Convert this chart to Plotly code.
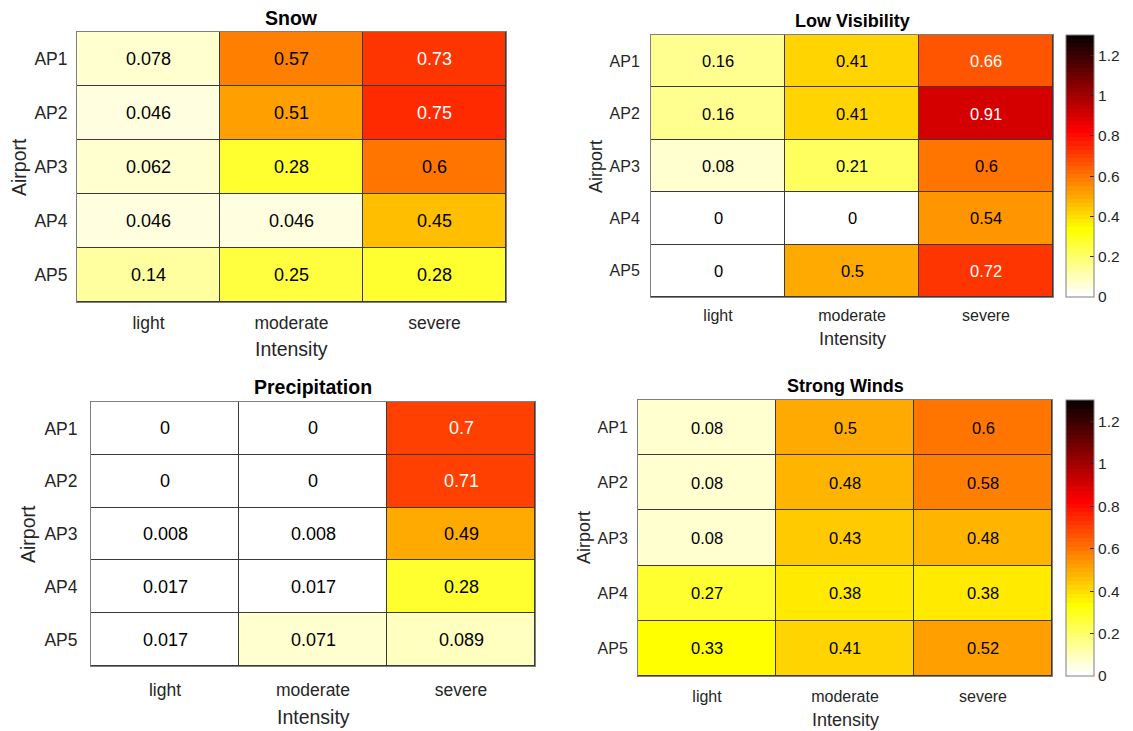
import plotly.graph_objects as go

airports = ["AP1", "AP2", "AP3", "AP4", "AP5"]
intensity = ["light", "moderate", "severe"]

snow = [[0.078, 0.57, 0.73],
        [0.046, 0.51, 0.75],
        [0.062, 0.28, 0.60],
        [0.046, 0.046, 0.45],
        [0.14, 0.25, 0.28]]
low_visibility = [[0.16, 0.41, 0.66],
                  [0.16, 0.41, 0.91],
                  [0.08, 0.21, 0.60],
                  [0.0, 0.0, 0.54],
                  [0.0, 0.50, 0.72]]
precipitation = [[0.0, 0.0, 0.70],
                 [0.0, 0.0, 0.71],
                 [0.008, 0.008, 0.49],
                 [0.017, 0.017, 0.28],
                 [0.017, 0.071, 0.089]]
strong_winds = [[0.08, 0.50, 0.60],
                [0.08, 0.48, 0.58],
                [0.08, 0.43, 0.48],
                [0.27, 0.38, 0.38],
                [0.33, 0.41, 0.52]]

titles = ["Snow", "Low Visibility", "Precipitation", "Strong Winds"]
datasets = [snow, low_visibility, precipitation, strong_winds]
cb_ticks = [0, 0.2, 0.4, 0.6, 0.8, 1.0, 1.2]
cb_ticktext = ["0", "0.2", "0.4", "0.6", "0.8", "1", "1.2"]
ZMAX = 1.3

# page is 1133x731; the html body adds an 8px margin, so the figure is
# drawn 8px smaller and all page-pixel positions are shifted by 8
OFF = 8
W, H = 1133 - OFF, 731 - OFF

# discrete flipud(hot(64)) colormap, as MATLAB
M = 64
NH = int(3 * M / 8)
hot = []
for i in range(M):
    r = (i + 1) / NH if i < NH else 1.0
    g = 0.0 if i < NH else ((i - NH + 1) / NH if i < 2 * NH else 1.0)
    b = 0.0 if i < 2 * NH else (i - 2 * NH + 1) / (M - 2 * NH)
    hot.append((r, g, b))
cmap = hot[::-1]

def color_of(v):
    idx = min(M - 1, max(0, int(v / ZMAX * M)))
    return cmap[idx]

def rgb(c):
    return f"rgb({round(c[0]*255)},{round(c[1]*255)},{round(c[2]*255)})"

colorscale = []
for i, c in enumerate(cmap):
    colorscale.append([i / M, rgb(c)])
    colorscale.append([(i + 1) / M, rgb(c)])

# layout boxes in page pixels: (left, right, top, bottom)
boxes = [(77, 506, 32, 302), (651, 1053, 35, 297), (91, 535, 402, 666), (638, 1052, 400, 676)]
big = [True, False, True, False]

def px(x):
    return (x - OFF) / W

def py(y):
    return 1 - (y - OFF) / H

fig = go.Figure()
annotations = []
layout = {}
FONT = "Liberation Sans, Arial, Helvetica, sans-serif"
TICKC = "#262626"

title_y = [18, 21, 387, 386]
xlab_y = [349, 339, 717, 720]
ylab_x = [19, 596, 28, 584]
x_standoff = [5, 4, 8, 6]
y_standoff = [5, 7, 9, 6]

for k, (data, title, box, isbig) in enumerate(zip(datasets, titles, boxes, big)):
    n = k + 1
    xa = "x" if n == 1 else f"x{n}"
    ya = "y" if n == 1 else f"y{n}"
    l, r, t, b = box
    showscale = not isbig
    cb = None
    if showscale:
        cb = dict(
            x=px(1066), xanchor="left", xpad=0,
            y=py(t), yanchor="top", ypad=0,
            len=b - t, lenmode="pixels",
            thickness=28, thicknessmode="pixels",
            outlinecolor="#7f7f7f", outlinewidth=1,
            tickvals=cb_ticks, ticktext=cb_ticktext,
            ticks="inside", ticklen=4, tickcolor=TICKC,
            tickfont=dict(size=15.5, color=TICKC, family=FONT),
        )
    fig.add_trace(go.Heatmap(
        z=data, x=intensity, y=airports,
        colorscale=colorscale, zmin=0, zmax=ZMAX,
        showscale=showscale, colorbar=cb,
        xgap=1, ygap=1, xaxis=xa, yaxis=ya,
        hoverinfo="skip",
    ))
    tick_size = 17.5 if isbig else 16
    cell_size = 18 if isbig else 16.5
    lab_size = 19.5 if isbig else 18
    title_size = 19.5 if isbig else 18
    layout["xaxis" if n == 1 else f"xaxis{n}"] = dict(
        domain=[px(l), px(r)], anchor=ya, showgrid=False, zeroline=False,
        showline=True, mirror=True, linecolor="#7f7f7f", linewidth=1,
        ticks="", tickfont=dict(size=tick_size, color=TICKC, family=FONT),
        ticklabelstandoff=x_standoff[k], fixedrange=True,
    )
    layout["yaxis" if n == 1 else f"yaxis{n}"] = dict(
        domain=[py(b), py(t)], anchor=xa, showgrid=False, zeroline=False,
        showline=True, mirror=True, linecolor="#7f7f7f", linewidth=1,
        autorange="reversed",
        ticks="", tickfont=dict(size=tick_size, color=TICKC, family=FONT),
        ticklabelstandoff=y_standoff[k], fixedrange=True,
    )
    # cell values
    for i, row in enumerate(data):
        for j, v in enumerate(row):
            rr, gg, bb = color_of(v)
            lum = 0.299 * rr + 0.587 * gg + 0.114 * bb
            col = "white" if lum < 0.52 else "black"
            annotations.append(dict(
                x=intensity[j], y=airports[i], xref=xa, yref=ya,
                text=f"{v:.2g}", showarrow=False,
                font=dict(size=cell_size, color=col, family=FONT),
            ))
    cx = (l + r) / 2
    annotations.append(dict(
        x=px(cx), y=py(title_y[k]), xref="paper", yref="paper",
        xanchor="center", yanchor="middle", showarrow=False, borderpad=0,
        text=f"<b>{title}</b>", font=dict(size=title_size, color="#000000", family=FONT),
    ))
    annotations.append(dict(
        x=px(cx), y=py(xlab_y[k]), xref="paper", yref="paper",
        xanchor="center", yanchor="middle", showarrow=False,
        text="Intensity", font=dict(size=lab_size, color=TICKC, family=FONT),
    ))
    annotations.append(dict(
        x=px(ylab_x[k]), y=py((t + b) / 2), xref="paper", yref="paper",
        xanchor="center", yanchor="middle", showarrow=False, textangle=-90,
        borderpad=0,
        text="Airport", font=dict(size=lab_size, color=TICKC, family=FONT),
    ))

fig.update_layout(
    width=W, height=H,
    margin=dict(l=0, r=0, t=0, b=0),
    paper_bgcolor="white", plot_bgcolor="#3a3a3a",
    showlegend=False, annotations=annotations,
    font=dict(family=FONT, color=TICKC),
    **layout,
)

fig.write_html("out.html")
